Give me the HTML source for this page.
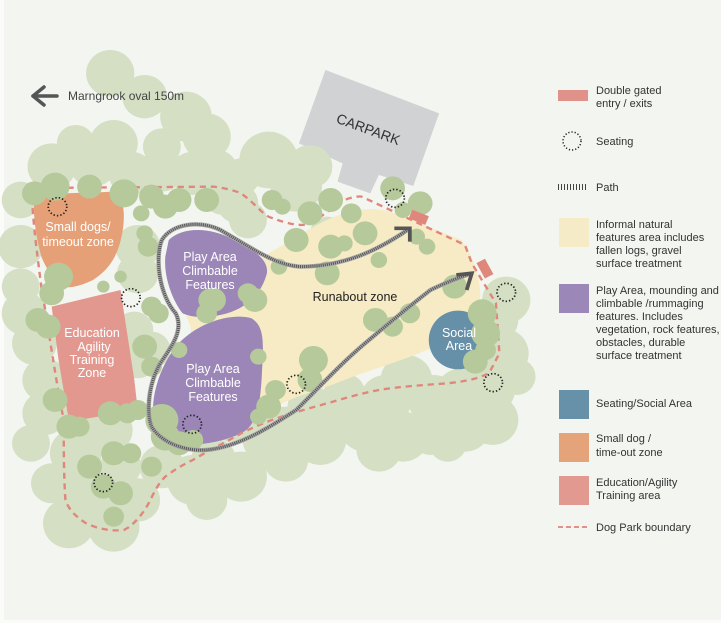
<!DOCTYPE html>
<html><head><meta charset="utf-8"><style>
html,body{margin:0;padding:0;background:#fff;}
svg{display:block;}
text{font-family:"Liberation Sans",sans-serif;}
</style></head><body>
<svg width="721" height="623" viewBox="0 0 721 623" xmlns="http://www.w3.org/2000/svg">
<rect x="0" y="0" width="721" height="623" fill="#fbfcfa"/>
<rect x="4" y="0" width="717" height="620" fill="#f3f5f0"/>
<g transform="translate(0,60) scale(0.3444,0.3333)">
<polygon points="945,30 1275,160 1200,378 1100,345 1075,400 980,365 995,310 868,250" fill="#d1d2d4"/>
<g fill="#d4dfc3">
<circle cx="320" cy="40" r="70"/><circle cx="420" cy="110" r="65"/><circle cx="540" cy="170" r="75"/><circle cx="600" cy="230" r="70"/><circle cx="330" cy="250" r="70"/><circle cx="150" cy="320" r="70"/><circle cx="270" cy="310" r="70"/><circle cx="380" cy="340" r="65"/><circle cx="470" cy="330" r="65"/><circle cx="560" cy="340" r="65"/><circle cx="650" cy="400" r="65"/><circle cx="780" cy="300" r="85"/><circle cx="860" cy="380" r="75"/><circle cx="900" cy="320" r="65"/><circle cx="690" cy="430" r="60"/><circle cx="60" cy="420" r="55"/><circle cx="60" cy="560" r="65"/><circle cx="70" cy="760" r="65"/><circle cx="100" cy="850" r="65"/><circle cx="130" cy="960" r="65"/><circle cx="130" cy="1060" r="65"/><circle cx="240" cy="980" r="75"/><circle cx="310" cy="1110" r="75"/><circle cx="220" cy="1180" r="75"/><circle cx="260" cy="1290" r="75"/><circle cx="200" cy="1390" r="75"/><circle cx="330" cy="1400" r="75"/><circle cx="400" cy="1320" r="65"/><circle cx="350" cy="1220" r="60"/><circle cx="470" cy="1220" r="65"/><circle cx="560" cy="1260" r="75"/><circle cx="620" cy="1200" r="65"/><circle cx="700" cy="1250" r="75"/><circle cx="780" cy="1140" r="75"/><circle cx="830" cy="1200" r="65"/><circle cx="930" cy="1140" r="75"/><circle cx="1000" cy="1070" r="75"/><circle cx="1060" cy="1100" r="75"/><circle cx="1120" cy="1020" r="75"/><circle cx="1180" cy="960" r="75"/><circle cx="1260" cy="1020" r="75"/><circle cx="1340" cy="1000" r="75"/><circle cx="1420" cy="990" r="75"/><circle cx="1460" cy="880" r="75"/><circle cx="1470" cy="720" r="70"/><circle cx="1430" cy="1080" r="75"/><circle cx="1350" cy="1100" r="75"/><circle cx="1250" cy="1120" r="65"/><circle cx="1170" cy="1130" r="75"/><circle cx="1100" cy="1170" r="65"/><circle cx="1440" cy="780" r="65"/><circle cx="400" cy="560" r="65"/><circle cx="400" cy="640" r="60"/><circle cx="390" cy="810" r="55"/><circle cx="440" cy="870" r="55"/><circle cx="400" cy="900" r="55"/><circle cx="900" cy="1040" r="65"/><circle cx="1000" cy="1000" r="60"/>
<circle cx="630" cy="330" r="60"/><circle cx="700" cy="350" r="55"/><circle cx="720" cy="480" r="55"/><circle cx="220" cy="250" r="55"/><circle cx="470" cy="260" r="55"/><circle cx="60" cy="680" r="55"/><circle cx="90" cy="1150" r="55"/><circle cx="150" cy="1270" r="60"/><circle cx="600" cy="1320" r="60"/><circle cx="830" cy="1100" r="60"/><circle cx="1300" cy="1150" r="55"/><circle cx="1500" cy="950" r="55"/><circle cx="680" cy="1100" r="50"/><circle cx="950" cy="520" r="50"/>
</g>
<path d="M540,770 C600,700 700,640 780,580 C850,540 930,480 1000,460 C1050,445 1100,440 1160,465 L1340,540 C1370,580 1390,640 1395,700 C1395,760 1330,820 1260,860 C1180,900 1100,920 1000,960 C930,990 880,1000 820,1030 C760,1060 720,1100 700,1110 L600,1000 L540,880 C560,840 560,800 540,770 Z" fill="#f6ebc4"/>
<path d="M490,540 C530,500 610,500 680,540 C740,570 780,600 775,640 C760,700 720,740 660,760 C610,775 560,775 530,760 C500,720 475,650 480,590 Z" fill="#9b86b7"/>
<path d="M540,830 C600,780 680,760 730,775 C770,800 765,850 760,950 C755,1050 740,1100 700,1120 C640,1150 560,1160 520,1150 C470,1130 440,1080 445,1030 C450,960 490,870 540,830 Z" fill="#9b86b7"/>
<path d="M100,420 C140,395 250,400 330,395 C360,410 365,460 355,520 C345,570 330,620 270,660 C230,680 200,685 185,680 C160,660 140,640 120,590 C105,530 95,470 100,420 Z" fill="#e6a077"/>
<polygon points="150,740 350,690 390,960 400,1050 200,1085 170,900" fill="#e3988f"/>
<ellipse cx="1330" cy="840" rx="85" ry="88" fill="#6590a8"/>
<path d="M100,385 L220,383 L620,380 C660,385 690,395 700,400 C740,430 760,460 780,470 C840,495 880,500 900,490 C950,460 980,430 1000,420 C1020,412 1040,408 1050,410 L1350,555 L1370,610 L1440,730 L1450,880 L1420,940 C1380,960 1340,965 1300,970 C1230,975 1160,980 1100,990 C1050,1000 1000,1015 950,1030 C880,1050 830,1065 790,1080 C750,1095 720,1110 700,1120 C650,1150 600,1175 560,1200 C520,1220 500,1235 480,1250 C450,1280 440,1320 420,1350 C400,1380 380,1400 360,1410 C320,1415 280,1405 250,1390 C220,1370 200,1350 190,1320 C185,1250 185,1150 185,1080 C160,950 140,800 120,680 C110,600 100,520 95,450 C92,420 95,400 100,385 Z" fill="none" stroke="#e0867c" stroke-width="7" stroke-dasharray="18,14"/>
<g fill="#b5c99b">
<circle cx="100" cy="400" r="36"/><circle cx="160" cy="380" r="42"/><circle cx="260" cy="380" r="36"/><circle cx="360" cy="400" r="42"/><circle cx="440" cy="410" r="36"/><circle cx="480" cy="440" r="36"/><circle cx="520" cy="420" r="36"/><circle cx="600" cy="420" r="36"/><circle cx="790" cy="420" r="30"/><circle cx="820" cy="440" r="24"/><circle cx="900" cy="460" r="36"/><circle cx="960" cy="420" r="36"/><circle cx="1020" cy="460" r="30"/><circle cx="1140" cy="385" r="36"/><circle cx="1220" cy="430" r="36"/><circle cx="1170" cy="450" r="24"/><circle cx="1060" cy="520" r="36"/><circle cx="960" cy="560" r="36"/><circle cx="1000" cy="550" r="24"/><circle cx="860" cy="540" r="36"/><circle cx="1210" cy="530" r="24"/><circle cx="1240" cy="560" r="24"/><circle cx="1100" cy="600" r="24"/><circle cx="810" cy="620" r="24"/><circle cx="950" cy="640" r="36"/><circle cx="1320" cy="680" r="36"/><circle cx="1090" cy="780" r="36"/><circle cx="1140" cy="800" r="30"/><circle cx="1190" cy="760" r="30"/><circle cx="1400" cy="760" r="42"/><circle cx="1410" cy="820" r="42"/><circle cx="1410" cy="870" r="30"/><circle cx="1380" cy="905" r="36"/><circle cx="910" cy="900" r="42"/><circle cx="900" cy="960" r="36"/><circle cx="740" cy="720" r="36"/><circle cx="720" cy="700" r="30"/><circle cx="620" cy="720" r="36"/><circle cx="600" cy="760" r="30"/><circle cx="750" cy="890" r="24"/><circle cx="800" cy="990" r="30"/><circle cx="780" cy="1040" r="36"/><circle cx="750" cy="1070" r="24"/><circle cx="470" cy="1080" r="48"/><circle cx="480" cy="1130" r="42"/><circle cx="520" cy="1150" r="36"/><circle cx="560" cy="1140" r="30"/><circle cx="200" cy="1100" r="36"/><circle cx="230" cy="1100" r="30"/><circle cx="320" cy="1060" r="36"/><circle cx="370" cy="1060" r="30"/><circle cx="330" cy="1180" r="36"/><circle cx="380" cy="1180" r="30"/><circle cx="440" cy="1220" r="30"/><circle cx="300" cy="1280" r="36"/><circle cx="350" cy="1300" r="36"/><circle cx="260" cy="1220" r="36"/><circle cx="330" cy="1370" r="30"/><circle cx="170" cy="650" r="42"/><circle cx="150" cy="700" r="36"/><circle cx="300" cy="680" r="18"/><circle cx="350" cy="650" r="18"/><circle cx="420" cy="520" r="24"/><circle cx="410" cy="460" r="24"/><circle cx="430" cy="560" r="30"/><circle cx="440" cy="740" r="30"/><circle cx="460" cy="760" r="30"/><circle cx="520" cy="870" r="24"/><circle cx="440" cy="920" r="30"/><circle cx="140" cy="800" r="36"/><circle cx="160" cy="1020" r="36"/><circle cx="110" cy="780" r="36"/><circle cx="420" cy="860" r="36"/><circle cx="400" cy="1050" r="30"/><circle cx="610" cy="720" r="34"/>
</g>
<g fill="none" stroke-linecap="butt">
<path d="M1190,505 C1100,570 1000,620 870,620 C800,615 740,570 640,510 C580,480 500,490 470,540 C450,590 460,700 510,760 C540,820 480,880 460,920 C430,980 425,1060 440,1100 C470,1150 540,1175 600,1170 C700,1160 800,1090 860,1050 C920,990 980,920 1060,850 C1140,780 1200,730 1250,690 C1300,665 1340,650 1370,640" stroke="#a8a8a8" stroke-width="13"/>
<path d="M1190,505 C1100,570 1000,620 870,620 C800,615 740,570 640,510 C580,480 500,490 470,540 C450,590 460,700 510,760 C540,820 480,880 460,920 C430,980 425,1060 440,1100 C470,1150 540,1175 600,1170 C700,1160 800,1090 860,1050 C920,990 980,920 1060,850 C1140,780 1200,730 1250,690 C1300,665 1340,650 1370,640" stroke="#555" stroke-width="9" stroke-dasharray="3,3"/>
<polyline points="1145,505 1190,505 1190,545" stroke="#555" stroke-width="11"/>
<polyline points="1325,645 1370,640 1355,690" stroke="#555" stroke-width="11"/>
</g>
<rect x="1190" y="458" width="52" height="28" fill="#e0877c" transform="rotate(22 1216 472)"/>
<rect x="1382" y="612" width="52" height="28" fill="#e0877c" transform="rotate(62 1408 626)"/>
<g fill="none" stroke="#222" stroke-width="5" stroke-dasharray="4,6">
<circle cx="167" cy="440" r="27"/><circle cx="380" cy="713" r="27"/><circle cx="1147" cy="415" r="27"/><circle cx="1470" cy="697" r="27"/><circle cx="1432" cy="968" r="27"/><circle cx="860" cy="973" r="27"/><circle cx="558" cy="1093" r="27"/><circle cx="300" cy="1268" r="27"/>
</g>
</g>
<g stroke="#555" stroke-width="3.5" fill="none" stroke-linecap="round" stroke-linejoin="round"><polyline points="44,87 33,96 44,105"/><line x1="33" y1="96" x2="57" y2="96"/></g>
<text x="68" y="100" font-size="12" fill="#444">Marngrook oval 150m</text>
<text x="368" y="134" font-size="14" fill="#333" text-anchor="middle" transform="rotate(20 368 130)">CARPARK</text>
<g fill="#fff" font-size="12.5" text-anchor="middle">
<text x="78" y="231">Small dogs/</text><text x="78" y="246">timeout zone</text>
<text x="92" y="337">Education</text><text x="94" y="351">Agility</text><text x="92" y="364">Training</text><text x="92" y="377">Zone</text>
<text x="210" y="261">Play Area</text><text x="210" y="275">Climbable</text><text x="210" y="289">Features</text>
<text x="213" y="373">Play Area</text><text x="213" y="387">Climbable</text><text x="213" y="401">Features</text>
<text x="459" y="337">Social</text><text x="459" y="350">Area</text>
</g>
<text x="355" y="301" font-size="12.5" fill="#222" text-anchor="middle">Runabout zone</text>
<rect x="558" y="90" width="30" height="11" fill="#e0928a"/>
<circle cx="572" cy="141" r="9" fill="none" stroke="#222" stroke-width="1.5" stroke-dasharray="1.2,2"/>
<line x1="558" y1="187" x2="588" y2="187" stroke="#444" stroke-width="6" stroke-dasharray="1,2"/>
<rect x="559" y="218" width="30" height="29" fill="#f5ebc6"/>
<rect x="559" y="284" width="30" height="29" fill="#9b88b8"/>
<rect x="559" y="390" width="30" height="29" fill="#6691a9"/>
<rect x="559" y="433" width="30" height="29" fill="#e5a37a"/>
<rect x="559" y="476" width="30" height="29" fill="#e29a90"/>
<line x1="558" y1="527" x2="588" y2="527" stroke="#e0928a" stroke-width="2" stroke-dasharray="5,3"/>
<g font-size="11" fill="#333">
<text x="596" y="94">Double gated</text><text x="596" y="107"> entry / exits</text>
<text x="596" y="145">Seating</text>
<text x="596" y="191">Path</text>
<text x="596" y="228">Informal natural</text><text x="596" y="241">features area includes</text><text x="596" y="254">fallen logs, gravel</text><text x="596" y="267">surface treatment</text>
<text x="596" y="294">Play Area, mounding and</text><text x="596" y="307">climbable /rummaging</text><text x="596" y="320">features. Includes</text><text x="596" y="333">vegetation, rock features,</text><text x="596" y="346">obstacles, durable</text><text x="596" y="359">surface treatment</text>
<text x="596" y="407">Seating/Social Area</text>
<text x="596" y="442">Small dog /</text><text x="596" y="456">time-out zone</text>
<text x="596" y="486">Education/Agility</text><text x="596" y="499">Training area</text>
<text x="596" y="531">Dog Park boundary</text>
</g>
</svg>
</body></html>
